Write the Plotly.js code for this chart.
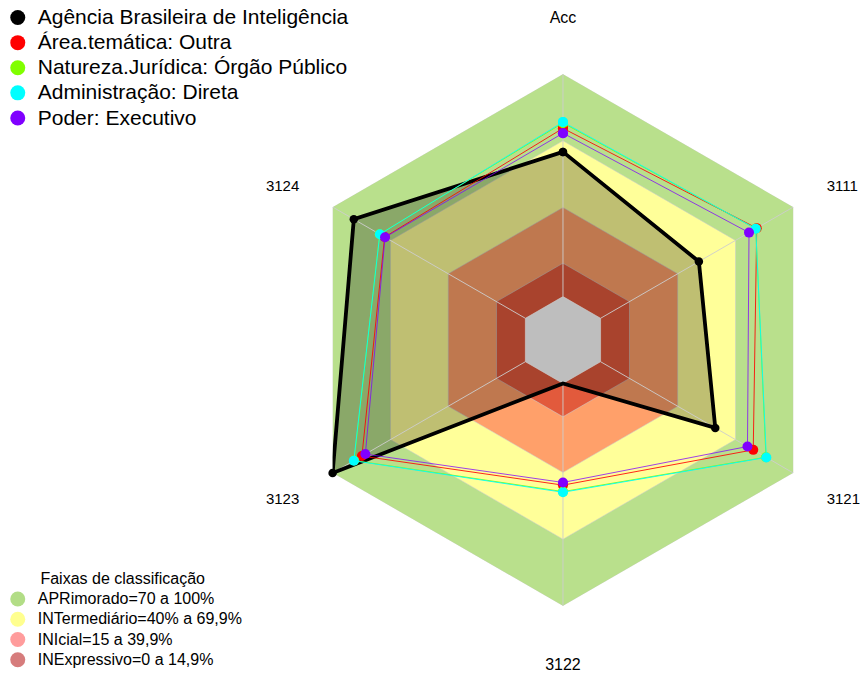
<!DOCTYPE html>
<html><head><meta charset="utf-8">
<script src="https://cdn.plot.ly/plotly-3.0.1.min.js"></script>
<style>body{margin:0;background:#fff;} #chart{width:862px;height:675px;}</style>
</head><body><div id="chart"></div>
<script>
// ---- data ----
const axes = ['Acc', '3111', '3121', '3122', '3123', '3124'];
const seriesNames = ['Agência Brasileira de Inteligência', 'Área.temática: Outra',
  'Natureza.Jurídica: Órgão Público', 'Administração: Direta', 'Poder: Executivo'];
const abin = [65, 51, 59.5, 0, 100, 89];
const areaOutra = [75.6, 81, 79.2, 45.7, 84.8, 73];
const naturezaOrgao = [78, 80.5, 85.8, 48.6, 88.8, 75.6];
const adminDireta = [78.4, 80.5, 86, 48.9, 89, 75.5];
const poderExecutivo = [73.4, 77, 76.2, 44.5, 83, 72.8];
const bandNames = ['APRimorado=70 a 100%', 'INTermediário=40% a 69,9%', 'INIcial=15 a 39,9%', 'INExpressivo=0 a 14,9%'];
const bandUpper = [100, 70, 40, 15];
const centerValue = 0;
const bandLegendTitle = 'Faixas de classificação';
const verticalAxes = ['Acc', '3122'];

// ---- styles ----
const FONT = 'Liberation Sans, Arial, sans-serif';
const seriesColors = ['#000000', '#FF0000', '#80FF00', '#00FFFF', '#8000FF'];
const seriesLineColors = ['#000000', 'rgba(255,0,0,0.85)', 'rgba(128,255,0,0.9)', 'rgba(0,255,255,0.9)', 'rgba(128,0,255,0.75)'];
const bandFill = ['rgb(185,224,140)', 'rgb(255,255,153)', 'rgb(255,160,106)', 'rgb(226,90,60)'];
const bandLegendColors = ['rgb(178,221,134)', 'rgb(255,255,143)', 'rgb(255,156,156)', 'rgb(214,124,124)'];

const close = a => a.concat([a[0]]);
const thetaClosed = close(axes);
const traces = [];

// bands
bandUpper.forEach((v, i) => {
  traces.push({type: 'scatterpolar', r: close(axes.map(() => v)), theta: thetaClosed,
    mode: 'lines', fill: 'toself', fillcolor: bandFill[i],
    line: {color: 'rgba(205,205,205,0.7)', width: 0.8}, showlegend: false, hoverinfo: 'skip'});
});

// black series fill
traces.push({type: 'scatterpolar', r: close(abin), theta: thetaClosed, mode: 'lines',
  fill: 'toself', fillcolor: 'rgba(0,0,0,0.25)', line: {width: 0, color: 'rgba(0,0,0,0)'},
  showlegend: false, hoverinfo: 'skip'});

// spokes
const spokeR = [], spokeT = [];
axes.forEach(a => { spokeR.push(centerValue, bandUpper[0], null); spokeT.push(a, a, a); });
traces.push({type: 'scatterpolar', r: spokeR, theta: spokeT, mode: 'lines',
  line: {color: 'rgba(205,205,205,0.9)', width: 1}, connectgaps: false, showlegend: false, hoverinfo: 'skip'});

// gray center
traces.push({type: 'scatterpolar', r: close(axes.map(() => centerValue)), theta: thetaClosed,
  mode: 'lines', fill: 'toself', fillcolor: 'rgb(190,190,190)',
  line: {color: 'rgba(205,205,205,0.8)', width: 0.8}, showlegend: false, hoverinfo: 'skip'});

// series lines
const seriesVals = [abin, areaOutra, naturezaOrgao, adminDireta, poderExecutivo];
seriesVals.forEach((vals, i) => {
  traces.push({type: 'scatterpolar', r: close(vals), theta: thetaClosed, mode: 'lines+markers',
    line: {color: seriesLineColors[i], width: i === 0 ? 3.8 : 1},
    marker: {color: seriesColors[i], size: i === 0 ? 8.5 : 10},
    name: seriesNames[i], showlegend: false});
});

// second (label-only) polar subplot for the top / bottom axis labels
traces.push({type: 'scatterpolar', subplot: 'polar2', r: axes.map(() => null), theta: axes,
  mode: 'markers', showlegend: false, hoverinfo: 'skip'});

// legend entries
seriesNames.forEach((n, i) => {
  traces.push({type: 'scatterpolar', r: [null], theta: [null], mode: 'markers',
    marker: {color: seriesColors[i], size: 15},
    name: '<span style="font-size:21px">' + n + '</span>', legend: 'legend', showlegend: true});
});
bandNames.forEach((n, i) => {
  traces.push({type: 'scatterpolar', r: [null], theta: [null], mode: 'markers',
    marker: {color: bandLegendColors[i], size: 15},
    name: '<span style="font-size:16px">' + n + '</span>', legend: 'legend2', showlegend: true});
});

const sideText = axes.map(a => verticalAxes.includes(a) ? '' : a);
const vertText = axes.map(a => verticalAxes.includes(a) ? a : '');
const polarDomain = {x: [0.3445, 0.9617], y: [0.1022, 0.8904]};
const hiddenRadial = {range: [-19.5, 100], showgrid: false, showline: false, showticklabels: false, ticks: ''};
const layout = {
  width: 862, height: 675,
  margin: {l: 0, r: 0, t: 0, b: 0, autoexpand: false},
  paper_bgcolor: '#ffffff',
  font: {family: FONT, color: '#000'},
  polar: {
    domain: polarDomain,
    bgcolor: 'rgba(0,0,0,0)',
    gridshape: 'linear',
    radialaxis: hiddenRadial,
    angularaxis: {type: 'category', categoryorder: 'array', categoryarray: axes,
      tickmode: 'array', tickvals: axes, ticktext: sideText,
      direction: 'clockwise', rotation: 90, showgrid: false, showline: false,
      ticks: 'outside', ticklen: 35, tickcolor: 'rgba(0,0,0,0)',
      tickfont: {size: 15, color: '#000', family: FONT}}
  },
  polar2: {
    domain: polarDomain,
    bgcolor: 'rgba(0,0,0,0)',
    gridshape: 'linear',
    radialaxis: hiddenRadial,
    angularaxis: {type: 'category', categoryorder: 'array', categoryarray: axes,
      tickmode: 'array', tickvals: axes, ticktext: vertText,
      direction: 'clockwise', rotation: 90, showgrid: false, showline: false,
      ticks: 'outside', ticklen: 44, tickcolor: 'rgba(0,0,0,0)',
      tickfont: {size: 16, color: '#000', family: FONT}}
  },
  legend: {x: -0.0026, y: 1, xanchor: 'left', yanchor: 'top', bgcolor: 'rgba(0,0,0,0)',
    font: {size: 17, family: FONT, color: '#000'}, tracegroupgap: 0},
  legend2: {x: -0.0026, y: 0, xanchor: 'left', yanchor: 'bottom', bgcolor: 'rgba(0,0,0,0)',
    font: {size: 13.3, family: FONT, color: '#000'}, tracegroupgap: 0,
    title: {text: bandLegendTitle, side: 'top center', font: {size: 16, family: FONT, color: '#000'}}},
  showlegend: true
};

Plotly.newPlot('chart', traces, layout, {displayModeBar: false, staticPlot: true});
</script>
</body></html>
